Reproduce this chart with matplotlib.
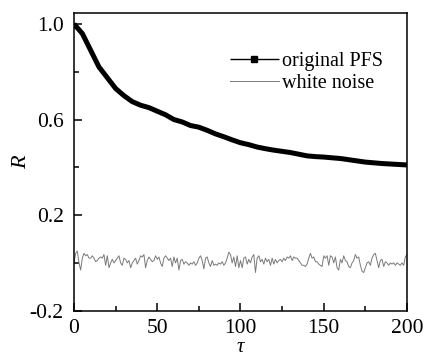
import matplotlib
matplotlib.use("Agg")
import matplotlib.pyplot as plt
from matplotlib.ticker import MultipleLocator

plt.rcParams['font.family'] = ['Liberation Serif', 'DejaVu Serif']

# original PFS autocorrelation, read every 5 lags
pfs_tau = list(range(0, 201, 5))
pfs_r = [1.0, 0.96, 0.89, 0.82, 0.775, 0.73, 0.70, 0.675, 0.66, 0.65,
         0.635, 0.62, 0.60, 0.59, 0.575, 0.568, 0.555, 0.54, 0.528, 0.515,
         0.503, 0.495, 0.485, 0.478, 0.472, 0.467, 0.462, 0.455, 0.448, 0.445,
         0.443, 0.44, 0.437, 0.432, 0.427, 0.422, 0.419, 0.416, 0.414, 0.412,
         0.41]

# white noise autocorrelation, lags 0..200
noise_tau = list(range(0, 201))
noise_r = [
    0.0, 0.04, 0.05, 0.0, -0.03, 0.02, 0.04, 0.03, 0.035, 0.02,
    0.02, 0.03, 0.02, 0.005, 0.01, 0.02, 0.025, 0.02, 0.035, -0.01,
    0.03, -0.02, 0.0, 0.015, 0.0, 0.01, 0.02, 0.03, 0.0, -0.01,
    0.02, 0.015, 0.0, 0.01, -0.02, 0.0, 0.01, 0.02, -0.005, 0.01,
    0.03, 0.025, 0.035, -0.02, 0.01, 0.025, 0.015, 0.005, 0.01, 0.03,
    0.015, 0.025, 0.0, -0.015, 0.02, 0.03, 0.02, 0.01, 0.02, -0.015,
    0.025, 0.0, 0.02, -0.03, 0.01, 0.015, -0.005, 0.005, 0.0, -0.01,
    0.0, -0.005, 0.005, -0.01, 0.0, 0.02, 0.03, 0.01, -0.025, 0.02,
    0.025, 0.0, -0.015, 0.01, -0.01, -0.005, -0.01, 0.0, -0.005, 0.005,
    -0.01, 0.0, 0.02, 0.045, 0.035, 0.0, 0.025, -0.015, 0.03, -0.02,
    0.01, -0.02, 0.02, 0.025, -0.005, 0.015, 0.0, 0.025, 0.035, -0.04,
    0.02, 0.03, 0.005, 0.015, -0.005, 0.02, 0.005, 0.015, -0.01, 0.02,
    -0.005, 0.015, 0.0, 0.01, 0.015, 0.005, 0.02, 0.01, 0.025, 0.02,
    0.03, 0.01, 0.025, 0.02, 0.02, 0.01, 0.0, -0.01, -0.01, -0.015,
    -0.005, 0.02, 0.04, 0.02, 0.025, 0.005, 0.005, -0.005, -0.01, -0.015,
    0.03, 0.02, 0.03, -0.01, 0.03, 0.025, 0.0, 0.025, -0.02, -0.03,
    0.015, 0.0, 0.03, 0.01, 0.005, -0.015, -0.02, 0.0, 0.01, 0.035,
    0.02, 0.025, -0.01, -0.035, -0.04, -0.02, 0.0, 0.005, -0.01, 0.02,
    0.035, 0.04, 0.01, -0.02, 0.01, 0.015, -0.015, 0.005, 0.0, -0.01,
    0.0, -0.005, 0.0, -0.01, 0.0, -0.005, -0.01, 0.0, -0.01, 0.025,
    0.035]

x_ticks = [0, 50, 100, 150, 200]
y_ticks = [-0.2, 0.2, 0.6, 1.0]
y_tick_labels = ['-0.2', '0.2', '0.6', '1.0']

fig = plt.figure(figsize=(4.29, 3.59), dpi=100)
ax = fig.add_axes([0.1725, 0.1345, 0.7762, 0.8293])

ax.plot(pfs_tau, pfs_r, color='black', lw=3.6, marker='s', ms=0,
        solid_capstyle='butt', solid_joinstyle='round', label='original PFS')
ax.plot(noise_tau, noise_r, color='#7a7a7a', lw=0.7, label='white noise')

ax.set_xlim(0, 200)
ax.set_ylim(-0.2, 1.046)
ax.set_xticks(x_ticks)
ax.set_yticks(y_ticks)
ax.set_yticklabels(y_tick_labels)
ax.xaxis.set_minor_locator(MultipleLocator(25))
ax.yaxis.set_minor_locator(MultipleLocator(0.2))
ax.tick_params(which='both', direction='in', top=False, right=False,
               width=1.1, labelsize=15.5)
ax.tick_params(axis='x', pad=6)
ax.tick_params(axis='y', pad=7.5)
ax.tick_params(which='major', length=5.5)
ax.tick_params(which='minor', length=3.5)
for s in ax.spines.values():
    s.set_linewidth(1.1)

ax.set_xlabel('τ', fontsize=15, style='italic', labelpad=0)
ax.set_ylabel('R', fontsize=16, style='italic', labelpad=-1)

leg = ax.legend(loc='upper left', bbox_to_anchor=(0.445, 0.896), frameon=False,
                fontsize=14.5, handlelength=2.4, handletextpad=0.15,
                labelspacing=0.15, borderaxespad=0)
leg.get_lines()[0].set_linewidth(1.0)
leg.get_lines()[0].set_markersize(4.5)

fig.savefig('out.png', dpi=100)
